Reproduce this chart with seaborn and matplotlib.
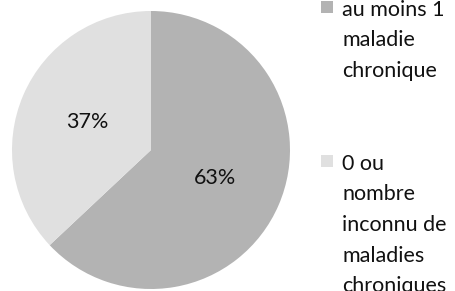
import matplotlib
matplotlib.use("Agg")
import matplotlib.pyplot as plt
from matplotlib.patches import Rectangle
import seaborn as sns

# ── Data ────────────────────────────────────────────────────────────────
categories = ["au moins 1\nmaladie\nchronique",
              "0 ou\nnombre\ninconnu de\nmaladies\nchroniques"]
shares = [63, 37]
colors = ["#B3B3B3", "#E0E0E0"]

sns.set_theme(style="white")
plt.rcParams["font.family"] = ["Lato", "DejaVu Sans"]

W, H = 455, 291
FS = 15.5
fig = plt.figure(figsize=(W / 100, H / 100), dpi=100)

# pie area: centre (151, 150), radius 139 px
cx, cy, r = 151, 150, 139
ax = fig.add_axes([(cx - r) / W, (H - cy - r) / H, 2 * r / W, 2 * r / H])
ax.pie(shares, colors=colors, startangle=90, counterclock=False,
       autopct="%1.0f%%", pctdistance=0.5,
       textprops=dict(fontsize=FS, color="#111111"),
       wedgeprops=dict(linewidth=0))
ax.set_xlim(-1, 1)
ax.set_ylim(-1, 1)
ax.axis("off")

# legend drawn by hand so the square sits on the first text line
entry_tops = [16, 170]   # first-line baselines in px from top
line_step = 30.5
for label, col, base in zip(categories, colors, entry_tops):
    fig.add_artist(Rectangle((321 / W, (H - base + 3) / H), 12 / W, 12 / H,
                             transform=fig.transFigure, facecolor=col,
                             edgecolor="none"))
    for i, line in enumerate(label.split("\n")):
        fig.text(342 / W, (H - base - i * line_step) / H, line,
                 fontsize=FS, color="#111111", va="baseline", ha="left")

fig.savefig("out.png", dpi=100, facecolor="white")
